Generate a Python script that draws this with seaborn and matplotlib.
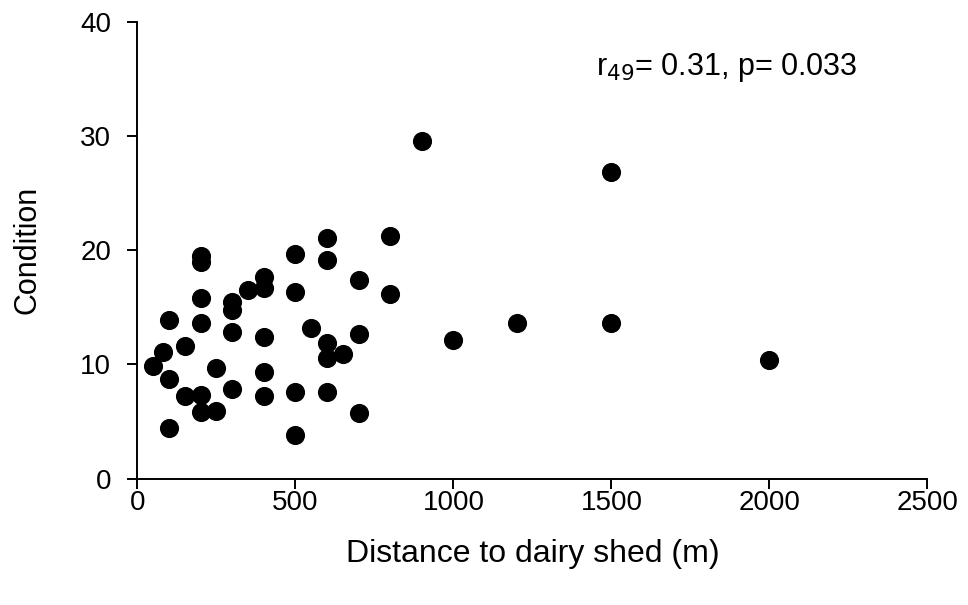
import numpy as np
import pandas as pd
import matplotlib
matplotlib.use('Agg')
import matplotlib.pyplot as plt
import seaborn as sns

# values
distance = [50, 80, 100, 100, 100, 150, 150,
            200, 200, 200, 200, 200, 200,
            250, 250, 300, 300, 300, 300, 350,
            400, 400, 400, 400, 400,
            500, 500, 500, 500, 550,
            600, 600, 600, 600, 600, 650,
            700, 700, 700, 800, 800, 900,
            1000, 1200, 1500, 1500, 2000]
condition = [9.9, 11.05, 13.9, 8.7, 4.45, 11.6, 7.25,
             19.5, 19.0, 15.8, 13.6, 7.3, 5.85,
             9.65, 5.95, 15.5, 14.8, 12.85, 7.8, 16.5,
             17.65, 16.7, 12.4, 9.35, 7.25,
             19.7, 16.35, 7.55, 3.8, 13.15,
             21.05, 19.1, 11.85, 10.6, 7.55, 10.9,
             17.35, 12.65, 5.7, 21.2, 16.2, 29.6,
             12.15, 13.6, 26.85, 13.6, 10.4]

df = pd.DataFrame({'distance': distance, 'condition': condition})

sns.set_style('ticks')
plt.rcParams['font.family'] = ['Liberation Sans', 'DejaVu Sans']
plt.rcParams['text.color'] = 'black'

fig = plt.figure(figsize=(9.68, 6.05), dpi=100)
ax = fig.add_axes([0.142, 0.209, 0.816, 0.755])

sns.scatterplot(data=df, x='distance', y='condition', ax=ax,
                color='black', s=190, edgecolor='black', linewidth=0)

ax.set_xlim(0, 2500)
ax.set_ylim(0, 40)
ax.set_xticks([0, 500, 1000, 1500, 2000, 2500])
ax.set_yticks([0, 10, 20, 30, 40])
ax.tick_params(labelsize=20, length=7, width=1.4, color='black',
               labelcolor='black')
ax.tick_params(axis='x', pad=1)
ax.tick_params(axis='y', pad=12)
for s in ['left', 'bottom']:
    ax.spines[s].set_linewidth(1.4)
    ax.spines[s].set_color('black')
sns.despine(ax=ax)

ax.set_xlabel('Distance to dairy shed (m)', fontsize=23, labelpad=17,
              color='black')
ax.set_ylabel('Condition', fontsize=22, labelpad=27, color='black')

ax.text(1452, 36.0, 'r$_{49}$= 0.31, p= 0.033', fontsize=22,
        ha='left', va='center')

fig.savefig('out.png', dpi=100)
